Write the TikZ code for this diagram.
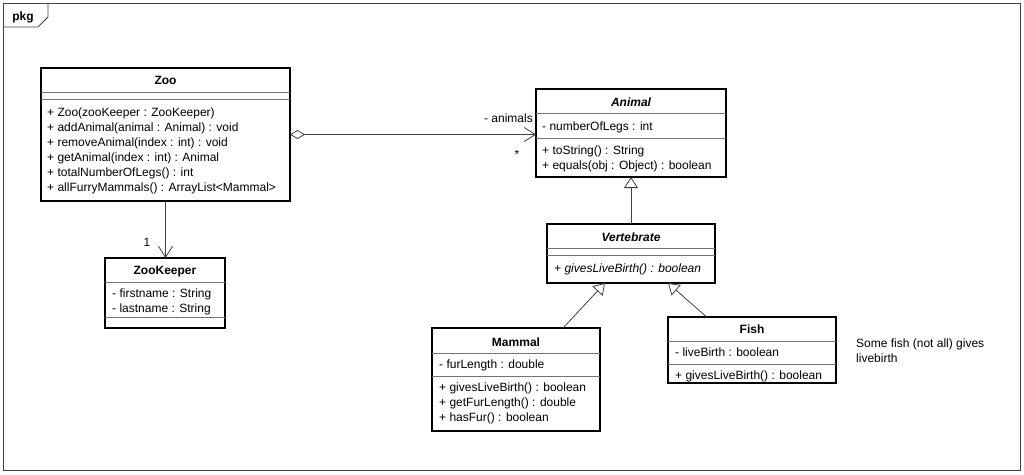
\documentclass[tikz,border=0pt]{standalone}
\usepackage{fontspec}
\setmainfont{Liberation Sans}
\usetikzlibrary{arrows.meta,calc}
\begin{document}
\begin{tikzpicture}[x=1pt,y=-1pt,
  box/.style={draw=black, line width=1.6pt, fill=white, inner sep=0pt, outer sep=0pt, anchor=north west},
  sep/.style={draw=black!55, line width=0.8pt},
  ttl/.style={font=\fontsize{12}{15}\selectfont\bfseries, inner sep=0pt, anchor=base},
  ittl/.style={font=\fontsize{12}{15}\selectfont\bfseries\itshape, inner sep=0pt, anchor=base},
  mem/.style={font=\fontsize{12}{15}\selectfont, inner sep=0pt, anchor=base west},
  imem/.style={font=\fontsize{12}{15}\selectfont\itshape, inner sep=0pt, anchor=base west},
  lbl/.style={font=\fontsize{12}{15}\selectfont, inner sep=0pt},
  conn/.style={draw=black!75, line width=0.8pt},
  barb/.style={-{Straight Barb[length=11pt,width=14pt,line width=0.8pt]}},
  gen/.style={-{Triangle[open,fill=white,length=11pt,width=14pt,line width=0.8pt]}},
  frameline/.style={draw=black!75, line width=0.8pt}
]
\useasboundingbox (0,0) rectangle (1024,474);

% package frame
\node[frameline, inner sep=0pt, outer sep=0pt, anchor=north west, minimum width=1017pt, minimum height=467pt] (pkg) at (3,3) {};
\draw[frameline] ($(pkg.north west)+(45,0)$) -- ($(pkg.north west)+(45,14)$) -- ($(pkg.north west)+(35,24)$) -- ($(pkg.north west)+(0,24)$);
\node[ttl] (pkgT) at (23,20) {pkg};

% Zoo
\node[box, minimum width=249pt, minimum height=133pt] (zoo) at (41,68) {};
\draw[sep] ([yshift=-24pt]zoo.north west) -- ([yshift=-24pt]zoo.north east);
\draw[sep] ([yshift=-31pt]zoo.north west) -- ([yshift=-31pt]zoo.north east);
\node[ttl] (zooT) at (165.5,84.3) {Zoo};
\node[mem] (zoo1) at (47,116) {+ Zoo(zooKeeper : ZooKeeper)};
\node[mem] (zoo2) at (47,131) {+ addAnimal(animal : Animal) : void};
\node[mem] (zoo3) at (47,146) {+ removeAnimal(index : int) : void};
\node[mem] (zoo4) at (47,161) {+ getAnimal(index : int) : Animal};
\node[mem] (zoo5) at (47,176) {+ totalNumberOfLegs() : int};
\node[mem] (zoo6) at (47,191) {+ allFurryMammals() : ArrayList<Mammal>};

% ZooKeeper
\node[box, minimum width=120pt, minimum height=70pt] (keeper) at (105,258) {};
\draw[sep] ([yshift=-24pt]keeper.north west) -- ([yshift=-24pt]keeper.north east);
\draw[sep] ([yshift=-59pt]keeper.north west) -- ([yshift=-59pt]keeper.north east);
\node[ttl] (keeperT) at (165,274.3) {ZooKeeper};
\node[mem] (keeper1) at (112,297) {- firstname : String};
\node[mem] (keeper2) at (112,312) {- lastname : String};

% Animal
\node[box, minimum width=190pt, minimum height=88pt] (animal) at (536,89) {};
\draw[sep] ([yshift=-24pt]animal.north west) -- ([yshift=-24pt]animal.north east);
\draw[sep] ([yshift=-49pt]animal.north west) -- ([yshift=-49pt]animal.north east);
\node[ittl] (animalT) at (631,106.3) {Animal};
\node[mem] (animal1) at (542,130.5) {- numberOfLegs : int};
\node[mem] (animal2) at (542,154) {+ toString() : String};
\node[mem] (animal3) at (542,169) {+ equals(obj : Object) : boolean};

% Vertebrate
\node[box, minimum width=168pt, minimum height=59pt] (vert) at (547,224) {};
\draw[sep] ([yshift=-24pt]vert.north west) -- ([yshift=-24pt]vert.north east);
\draw[sep] ([yshift=-31pt]vert.north west) -- ([yshift=-31pt]vert.north east);
\node[ittl] (vertT) at (631,241.3) {Vertebrate};
\node[imem] (vert1) at (554,272) {+ givesLiveBirth() : boolean};

% Mammal
\node[box, minimum width=168pt, minimum height=103pt] (mammal) at (432,328) {};
\draw[sep] ([yshift=-25pt]mammal.north west) -- ([yshift=-25pt]mammal.north east);
\draw[sep] ([yshift=-48pt]mammal.north west) -- ([yshift=-48pt]mammal.north east);
\node[ttl] (mammalT) at (516,346.3) {Mammal};
\node[mem] (mammal1) at (439,368) {- furLength : double};
\node[mem] (mammal2) at (439,391) {+ givesLiveBirth() : boolean};
\node[mem] (mammal3) at (439,406) {+ getFurLength() : double};
\node[mem] (mammal4) at (439,421) {+ hasFur() : boolean};

% Fish
\node[box, minimum width=168pt, minimum height=66pt] (fish) at (668,317) {};
\draw[sep] ([yshift=-24pt]fish.north west) -- ([yshift=-24pt]fish.north east);
\draw[sep] ([yshift=-47pt]fish.north west) -- ([yshift=-47pt]fish.north east);
\node[ttl] (fishT) at (752,333.3) {Fish};
\node[mem] (fish1) at (675,356) {- liveBirth : boolean};
\node[mem] (fish2) at (675,379) {+ givesLiveBirth() : boolean};

% note
\node[mem] (note1) at (856,347) {Some fish (not all) gives};
\node[mem] (note2) at (856,362) {livebirth};

% connectors
\draw[conn, barb] (zoo.south) -- (zoo.south |- keeper.north);
\node[lbl, anchor=base] (one) at (147,246) {1};

\draw[conn, {Diamond[open,fill=white,length=15pt,width=9pt,line width=0.8pt]}-{Straight Barb[length=11pt,width=14pt,line width=0.8pt]}] (zoo.east) -- (zoo.east -| animal.west);
\node[lbl, anchor=base east] (animalsL) at (533,122) {- animals};
\node[lbl, anchor=base] (starL) at (517,158) {*};

\draw[conn, gen] (vert.north) -- (vert.north |- animal.south);
\draw[conn, gen] ($(mammal.north west)!0.78!(mammal.north east)$) -- ($(vert.south west)!0.345!(vert.south east)$);
\draw[conn, gen] ($(fish.north west)!0.23!(fish.north east)$) -- ($(vert.south west)!0.72!(vert.south east)$);
\end{tikzpicture}
\end{document}
